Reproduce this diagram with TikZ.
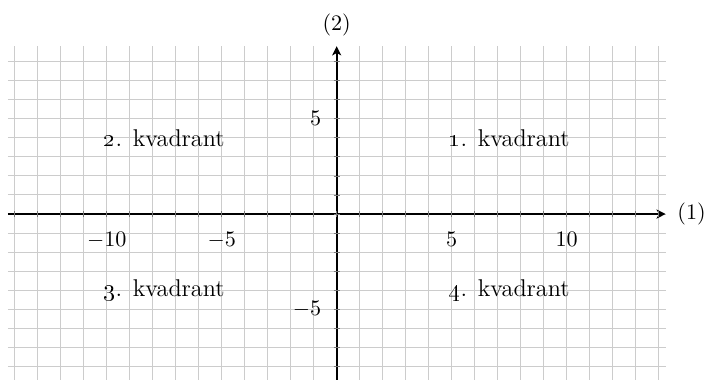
\documentclass[tikz,border=0pt,11pt]{standalone}
\usepackage{tikz}
\usetikzlibrary{arrows.meta, positioning}
\definecolor{gridgray}{RGB}{204, 204, 204}
\definecolor{tickgray}{RGB}{120, 120, 120}

\begin{document}
\begin{tikzpicture}[x=0.4cm, y=0.3315cm,
    axisline/.style={line width=1pt, -{Stealth[length=4.5pt, width=4.5pt, inset=1.2pt]}},
    ticklabel/.style={inner sep=2pt},
    quadlabel/.style={inner sep=2pt, font=\large}]
    \useasboundingbox (-14.64,-8.66) rectangle (16.1,11.23);

    % Grid
    \draw[gridgray, line width=0.5pt, step=1] (-14.3,-8.8) grid (14.3,8.8);

    % Axes
    \coordinate (xmin) at (-14.3,0);
    \coordinate (xmax) at (14.3,0);
    \coordinate (ymin) at (0,-8.8);
    \coordinate (ymax) at (0,8.8);
    \draw[axisline] (xmin) -- (xmax);
    \draw[axisline] (ymin) -- (ymax);
    \node[anchor=west, xshift=2pt] (xlab) at (xmax) {(1)};
    \node[anchor=south, yshift=1pt] (ylab) at (ymax) {(2)};

    % Ticks
    \foreach \x in {-14,...,14}
        \draw[tickgray, line width=0.4pt] ([yshift=-1.5pt]\x,0) -- ([yshift=1.5pt]\x,0);
    \foreach \y in {-8,...,8}
        \draw[tickgray, line width=0.4pt] ([xshift=-1.5pt]0,\y) -- ([xshift=1.5pt]0,\y);

    % Tick labels
    \foreach \x in {-10,-5,5,10}
        \node[ticklabel, anchor=north] (xt\x) at (\x,-0.7) {$\x$};
    \foreach \y in {-5,5}
        \node[ticklabel, anchor=east] (yt\y) at (-0.48,\y) {$\y$};

    % Quadrants
    \foreach \q/\px/\py in {1/7.5/4, 2/-7.5/4, 3/-7.5/-4, 4/7.5/-4}
        \node[quadlabel] (q\q) at (\px,\py) {\oldstylenums{\q}. kvadrant};
\end{tikzpicture}
\end{document}
